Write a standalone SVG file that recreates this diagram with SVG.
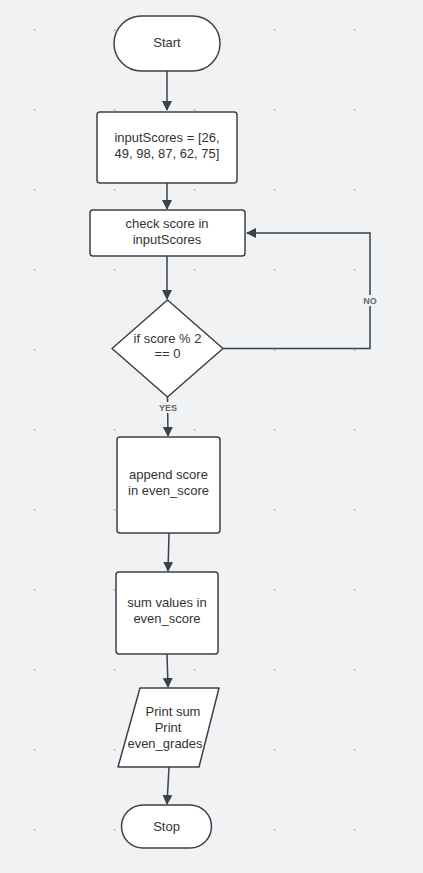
<svg xmlns="http://www.w3.org/2000/svg" width="423" height="873" viewBox="0 0 423 873">
<defs>
<pattern id="dots" x="0" y="0" width="80" height="80" patternUnits="userSpaceOnUse">
<circle cx="34.5" cy="30" r="1" fill="#b8bcc2"/>
</pattern>
<marker id="arr" viewBox="0 0 10 10" refX="9" refY="5" markerWidth="10" markerHeight="10" markerUnits="userSpaceOnUse" orient="auto">
<path d="M0,0 L10,5 L0,10 Z" fill="#3a414a"/>
</marker>
<style>
.n{fill:#ffffff;stroke:#3a414a;stroke-width:1.5}
.t{font-family:"Liberation Sans",Arial,sans-serif;font-size:13px;fill:#333333;text-anchor:middle}
.c{fill:none;stroke:#3a414a;stroke-width:1.5}
.lbl{font-family:"Liberation Sans",Arial,sans-serif;font-size:9px;font-weight:bold;fill:#666;text-anchor:middle}
</style>
</defs>
<rect width="423" height="873" fill="#f1f2f4"/>
<rect width="423" height="873" fill="url(#dots)"/>
<g id="connectors">
<path class="c" d="M167,71 L167,110" marker-end="url(#arr)"/>
<path class="c" d="M167,183 L167,209" marker-end="url(#arr)"/>
<path class="c" d="M167,256 L167,299" marker-end="url(#arr)"/>
<path class="c" d="M223,348.5 L370,348.5 L370,233 L247,233" marker-end="url(#arr)"/>
<rect x="361" y="295" width="18" height="11" fill="#f1f2f4"/>
<text class="lbl" x="370" y="303.5">NO</text>
<path class="c" d="M167.5,397 L168,436" marker-end="url(#arr)"/>
<rect x="156" y="402" width="24" height="11" fill="#f1f2f4"/>
<text class="lbl" x="168" y="410.5">YES</text>
<path class="c" d="M169,533 L168,571" marker-end="url(#arr)"/>
<path class="c" d="M167,654 L168,687" marker-end="url(#arr)"/>
<path class="c" d="M169,767 L167,804" marker-end="url(#arr)"/>
</g>
<g id="start">
<rect class="n" x="114" y="16" width="106" height="55" rx="27.5"/>
<text class="t" x="167" y="47">Start</text>
</g>
<g id="input">
<rect class="n" x="97" y="112" width="140" height="71" rx="3"/>
<text class="t" x="167" y="142">inputScores = [26,</text>
<text class="t" x="167" y="158">49, 98, 87, 62, 75]</text>
</g>
<g id="check">
<rect class="n" x="90" y="210" width="155" height="46" rx="3"/>
<text class="t" x="167" y="228">check score in</text>
<text class="t" x="167" y="244">inputScores</text>
</g>
<g id="decision">
<polygon class="n" points="167.5,300 223,348.5 167.5,397 112,348.5" stroke-linejoin="round"/>
<text class="t" x="167.5" y="343">if score % 2</text>
<text class="t" x="167.5" y="358">== 0</text>
</g>
<g id="append">
<rect class="n" x="117" y="437" width="103" height="96" rx="3"/>
<text class="t" x="168.5" y="479">append score</text>
<text class="t" x="168.5" y="495">in even_score</text>
</g>
<g id="sum">
<rect class="n" x="116" y="572" width="102" height="82" rx="3"/>
<text class="t" x="167" y="607">sum values in</text>
<text class="t" x="167" y="623">even_score</text>
</g>
<g id="print">
<polygon class="n" points="140,688 219,688 199,767 118,767" stroke-linejoin="round"/>
<text class="t" x="173" y="716">Print sum</text>
<text class="t" x="168" y="732">Print</text>
<text class="t" x="165" y="748">even_grades</text>
</g>
<g id="stop">
<rect class="n" x="121.5" y="805" width="90" height="43" rx="21.5"/>
<text class="t" x="166.5" y="830.5">Stop</text>
</g>
</svg>
